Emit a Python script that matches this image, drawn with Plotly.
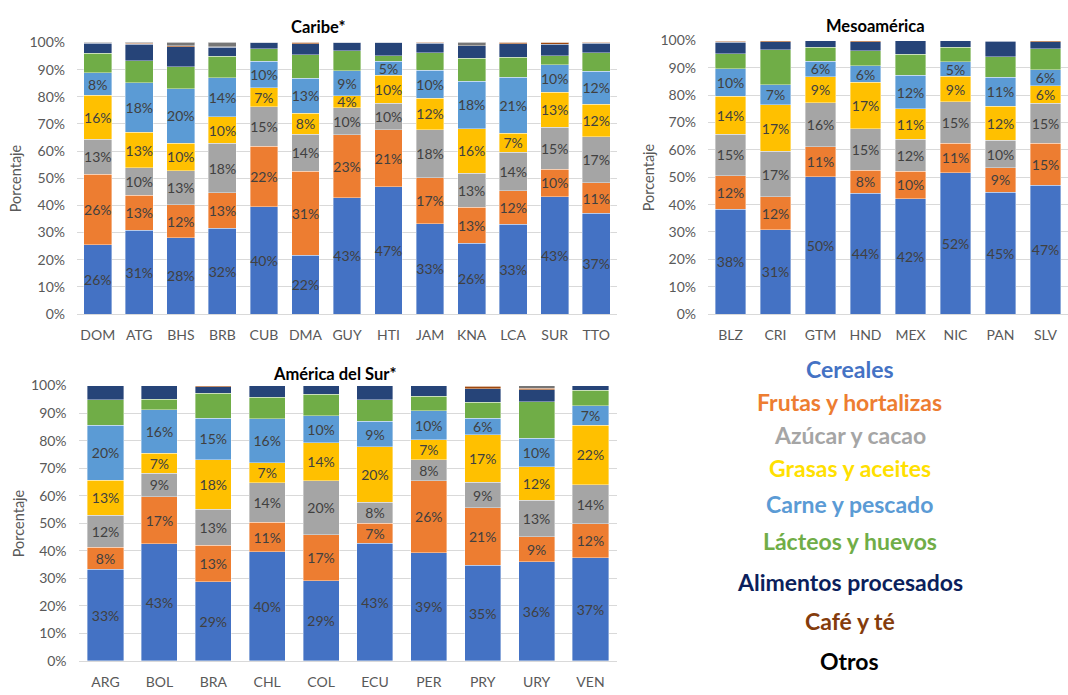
import plotly.graph_objects as go

caribe = ["DOM", "ATG", "BHS", "BRB", "CUB", "DMA", "GUY", "HTI", "JAM", "KNA", "LCA", "SUR", "TTO"]
meso = ["BLZ", "CRI", "GTM", "HND", "MEX", "NIC", "PAN", "SLV"]
sur = ["ARG", "BOL", "BRA", "CHL", "COL", "ECU", "PER", "PRY", "URY", "VEN"]

# values in %, countries in order caribe + meso + sur
cereales = [25.6, 30.9, 28.1, 31.6, 39.6, 21.7, 42.9, 46.9, 33.2, 26.1, 33.1, 43.2, 37.1,
            38.4, 30.8, 50.2, 44.2, 42.2, 51.7, 44.6, 47.0,
            33.3, 42.6, 28.8, 39.6, 29.2, 42.7, 39.3, 34.7, 36.1, 37.4]
frutas = [25.8, 12.9, 12.1, 13.0, 22.2, 30.8, 23.1, 20.9, 17.0, 13.2, 12.3, 10.2, 11.2,
          12.1, 12.0, 10.9, 8.4, 10.0, 10.8, 8.9, 15.4,
          7.9, 17.0, 13.3, 10.8, 16.7, 7.3, 26.1, 21.0, 9.0, 12.4]
azucar = [12.9, 10.0, 12.6, 18.2, 14.6, 13.7, 10.0, 9.8, 17.7, 12.6, 14.2, 15.3, 17.0,
          15.3, 16.7, 16.2, 15.1, 11.7, 15.1, 10.0, 14.7,
          11.7, 8.6, 12.9, 14.3, 19.6, 7.7, 7.6, 9.1, 13.3, 14.2]
grasas = [16.3, 13.1, 10.1, 9.9, 6.9, 7.7, 4.3, 10.4, 11.6, 16.3, 6.9, 12.9, 11.9,
          13.8, 17.0, 9.4, 17.0, 11.1, 9.3, 12.4, 6.4,
          12.7, 7.2, 18.1, 7.3, 13.7, 20.0, 7.4, 17.3, 12.2, 21.6]
carne = [8.2, 18.2, 20.1, 14.4, 9.7, 12.9, 9.2, 5.1, 10.3, 17.6, 20.7, 10.2, 12.2,
         10.0, 7.4, 5.8, 6.1, 12.3, 5.3, 10.6, 5.9,
         20.0, 15.8, 15.0, 15.9, 9.8, 9.4, 10.4, 6.0, 10.3, 7.0]
lacteos = [7.3, 8.1, 8.0, 7.9, 4.7, 8.6, 7.5, 2.0, 6.4, 8.4, 7.4, 3.4, 6.9,
           5.6, 12.8, 5.0, 5.4, 7.6, 5.3, 7.6, 7.6,
           9.2, 3.8, 9.1, 7.9, 7.9, 7.8, 5.4, 5.9, 13.3, 5.7]
procesados = [3.6, 6.2, 7.4, 3.2, 2.3, 4.2, 3.0, 4.9, 3.6, 4.6, 5.0, 4.2, 3.5,
              4.2, 2.9, 2.5, 3.4, 5.1, 2.5, 5.7, 2.6,
              5.2, 5.0, 2.3, 4.2, 3.1, 5.1, 3.8, 4.9, 4.3, 1.7]
cafe = [0.2, 0.4, 0.3, 0.3, 0, 0.4, 0, 0, 0.2, 0, 0.4, 0.6, 0.2,
        0.4, 0.4, 0, 0.4, 0, 0, 0.2, 0.4,
        0, 0, 0.5, 0, 0, 0, 0, 0.8, 0.6, 0]
otros = [0.1, 0.2, 1.3, 1.5, 0, 0, 0, 0, 0, 1.2, 0, 0, 0,
         0.2, 0, 0, 0, 0, 0, 0, 0,
         0, 0, 0, 0, 0, 0, 0, 0.3, 0.9, 0]

series_names = ["Cereales", "Frutas y hortalizas", "Azúcar y cacao", "Grasas y aceites",
                "Carne y pescado", "Lácteos y huevos", "Alimentos procesados", "Café y té", "Otros"]
series_values = [cereales, frutas, azucar, grasas, carne, lacteos, procesados, cafe, otros]
bar_colors = ["#4472C4", "#ED7D31", "#A5A5A5", "#FFC000", "#5B9BD5", "#70AD47", "#264478", "#9E480E", "#767676"]
legend_colors = ["#4472C4", "#ED7D31", "#A5A5A5", "#FFE000", "#5B9BD5", "#70AD47", "#0B1F5C", "#843C0C", "#000000"]
labeled = [True, True, True, True, True, False, False, False, False]

W, H = 1068, 695
FONT = "Lato, Carlito, Calibri, Open Sans, sans-serif"

regions = [
    (caribe, 0, "x", "y", (77, 617), (34.3, 312.7), "Caribe*", 318, 18, 15),
    (meso, 13, "x2", "y2", (708, 1068), (32.3, 312.7), "Mesoamérica", 875, 17, 648),
    (sur, 21, "x3", "y3", (78.6, 617.4), (386, 668.3), "América del Sur*", 334, 374, 18),
]

fig = go.Figure()
annotations = []
layout_axes = {}

for countries, start, xa, ya, (x0, x1), (yt, yb), title, tx, ty, ytx in regions:
    n = len(countries)
    for name, vals, col, lab in zip(series_names, series_values, bar_colors, labeled):
        v = vals[start:start + n]
        fig.add_trace(go.Bar(
            x=countries, y=v, name=name, xaxis=xa, yaxis=ya,
            marker=dict(color=col, line=dict(color="rgba(255,255,255,0.55)", width=0.7)),
            texttemplate="%{y:.0f}%" if lab else None,
            textposition="inside" if lab else "none",
            insidetextanchor="middle",
            textangle=0,
            textfont=dict(family=FONT, size=14, color="#404040"),
            showlegend=False,
            width=0.67,
        ))
    xkey = "xaxis" + xa[1:]
    ykey = "yaxis" + ya[1:]
    layout_axes[xkey] = dict(
        domain=[x0 / W, x1 / W], anchor=ya, type="category",
        showgrid=False, showline=True, linecolor="#D9D9D9", linewidth=1,
        ticks="", ticklabelstandoff=8,
        tickfont=dict(family=FONT, size=14, color="#595959"),
        fixedrange=True,
    )
    layout_axes[ykey] = dict(
        domain=[1 - yb / H, 1 - yt / H], anchor=xa, range=[0, 100],
        tickvals=list(range(0, 101, 10)), ticktext=[f"{t}%" for t in range(0, 101, 10)],
        showgrid=True, gridcolor="#D9D9D9", gridwidth=1, zeroline=False,
        showline=False, ticks="", ticklabelstandoff=11,
        tickfont=dict(family=FONT, size=14, color="#595959"),
        fixedrange=True,
    )
    annotations.append(dict(
        text=f"<b>{title}</b>", x=tx / W, y=1 - ty / H, xref="paper", yref="paper",
        xanchor="center", yanchor="middle", showarrow=False,
        font=dict(family=FONT, size=16.5, color="#000000"),
    ))
    annotations.append(dict(
        text="Porcentaje", x=ytx / W, y=1 - ((yt + yb) / 2) / H, xref="paper", yref="paper",
        xanchor="center", yanchor="middle", showarrow=False, textangle=-90,
        font=dict(family=FONT, size=14.5, color="#595959"),
    ))

legend_y = [369, 403, 437, 470, 507, 545, 587, 627, 668]
for name, col, ly in zip(series_names, legend_colors, legend_y):
    annotations.append(dict(
        text=f"<b>{name}</b>", x=850 / W, y=1 - ly / H, xref="paper", yref="paper",
        xanchor="center", yanchor="middle", showarrow=False,
        font=dict(family=FONT, size=23, color=col),
    ))

fig.update_layout(
    width=W, height=H, margin=dict(l=0, r=0, t=0, b=0),
    paper_bgcolor="white", plot_bgcolor="white",
    barmode="stack", bargap=0.33,
    uniformtext=dict(minsize=13, mode="show"),
    annotations=annotations,
    font=dict(family=FONT),
    **layout_axes,
)

fig.write_html("out.html")
